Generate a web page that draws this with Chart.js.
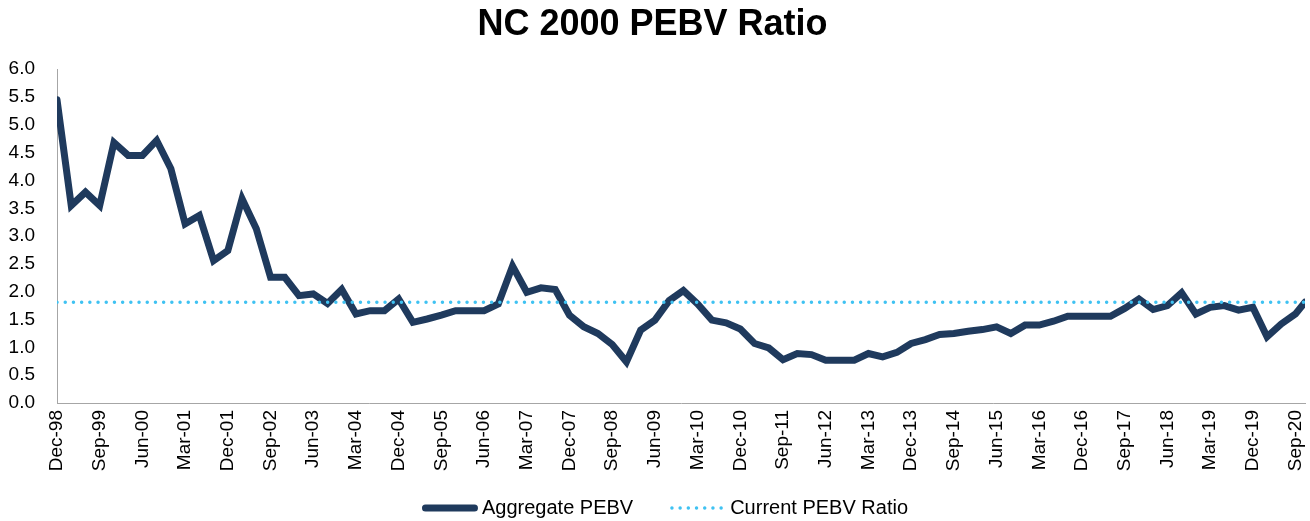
<!DOCTYPE html>
<html>
<head>
<meta charset="utf-8">
<title>NC 2000 PEBV Ratio</title>
<script src="https://cdn.jsdelivr.net/npm/chart.js@4.4.0/dist/chart.umd.min.js"></script>
<style>
  html, body { margin: 0; padding: 0; background: #fff; }
  #wrap { width: 1310px; height: 521px; }
</style>
</head>
<body>
<div id="wrap"><canvas id="pebv-chart" width="1310" height="521"></canvas></div>
<script>
// --- DATA: quarter ends, plus the latest reading at the end ---
const dates = [
  'Dec-98',
  'Mar-99', 'Jun-99', 'Sep-99', 'Dec-99',
  'Mar-00', 'Jun-00', 'Sep-00', 'Dec-00',
  'Mar-01', 'Jun-01', 'Sep-01', 'Dec-01',
  'Mar-02', 'Jun-02', 'Sep-02', 'Dec-02',
  'Mar-03', 'Jun-03', 'Sep-03', 'Dec-03',
  'Mar-04', 'Jun-04', 'Sep-04', 'Dec-04',
  'Mar-05', 'Jun-05', 'Sep-05', 'Dec-05',
  'Mar-06', 'Jun-06', 'Sep-06', 'Dec-06',
  'Mar-07', 'Jun-07', 'Sep-07', 'Dec-07',
  'Mar-08', 'Jun-08', 'Sep-08', 'Dec-08',
  'Mar-09', 'Jun-09', 'Sep-09', 'Dec-09',
  'Mar-10', 'Jun-10', 'Sep-10', 'Dec-10',
  'Mar-11', 'Jun-11', 'Sep-11', 'Dec-11',
  'Mar-12', 'Jun-12', 'Sep-12', 'Dec-12',
  'Mar-13', 'Jun-13', 'Sep-13', 'Dec-13',
  'Mar-14', 'Jun-14', 'Sep-14', 'Dec-14',
  'Mar-15', 'Jun-15', 'Sep-15', 'Dec-15',
  'Mar-16', 'Jun-16', 'Sep-16', 'Dec-16',
  'Mar-17', 'Jun-17', 'Sep-17', 'Dec-17',
  'Mar-18', 'Jun-18', 'Sep-18', 'Dec-18',
  'Mar-19', 'Jun-19', 'Sep-19', 'Dec-19',
  'Mar-20', 'Jun-20', 'Sep-20',
  'Nov-20'
];

const aggregatePEBV = [
  5.45,
  3.55, 3.79, 3.55, 4.68,
  4.45, 4.45, 4.72, 4.21,
  3.22, 3.37, 2.56, 2.74,
  3.67, 3.13, 2.26, 2.26,
  1.93, 1.96, 1.79, 2.04,
  1.60, 1.66, 1.66, 1.87,
  1.45, 1.51, 1.58, 1.66,
  1.66, 1.66, 1.78, 2.46,
  1.99, 2.07, 2.04, 1.58,
  1.37, 1.25, 1.05, 0.74,
  1.31, 1.49, 1.84, 2.02,
  1.78, 1.49, 1.44, 1.33,
  1.07, 0.99, 0.78, 0.89,
  0.87, 0.77, 0.77, 0.77,
  0.89, 0.83, 0.91, 1.07,
  1.14, 1.23, 1.25, 1.29,
  1.32, 1.37, 1.25, 1.40,
  1.40, 1.47, 1.56, 1.56,
  1.56, 1.56, 1.70, 1.87,
  1.68, 1.75, 1.98, 1.60,
  1.72, 1.75, 1.67, 1.72,
  1.19, 1.42, 1.60,
  1.81
];

const currentPEBV = 1.81;

// x tick labels, every third quarter
const xTickLabels = [
  'Dec-98', 'Sep-99', 'Jun-00', 'Mar-01', 'Dec-01', 'Sep-02', 'Jun-03', 'Mar-04',
  'Dec-04', 'Sep-05', 'Jun-06', 'Mar-07', 'Dec-07', 'Sep-08', 'Jun-09', 'Mar-10',
  'Dec-10', 'Sep-11', 'Jun-12', 'Mar-13', 'Dec-13', 'Sep-14', 'Jun-15', 'Mar-16',
  'Dec-16', 'Sep-17', 'Jun-18', 'Mar-19', 'Dec-19', 'Sep-20'
];

const FONT = '"Liberation Sans", Arial, Helvetica, sans-serif';
const NAVY = '#1f3a5d';
const SKY = '#3fc2f2';
const AXIS_GREY = '#a6a6a6';
const MONTHS = ['Jan', 'Feb', 'Mar', 'Apr', 'May', 'Jun', 'Jul', 'Aug', 'Sep', 'Oct', 'Nov', 'Dec'];

// 'Mon-YY' -> months after Dec-98 (date axis, like the Excel source)
function monthIndex(label) {
    const [mon, yy] = label.split('-');
    const year = +yy < 50 ? 2000 + +yy : 1900 + +yy;
    return (year - 1998) * 12 + MONTHS.indexOf(mon) - 11;
}

const xFirst = monthIndex(dates[0]);
const xLast = monthIndex(dates[dates.length - 1]);
const tickLookup = new Map(xTickLabels.map(l => [monthIndex(l), l]));

// legend drawn under the x labels, line samples like the Excel original
const bottomLegend = {
    id: 'bottomLegend',
    afterDraw(chart) {
        const ctx = chart.ctx;
        const items = chart.data.datasets;
        const sample = 56, gapText = 4, gapItem = 37;
        const y = 508;

        ctx.save();
        ctx.font = '20px ' + FONT;
        ctx.textBaseline = 'middle';
        ctx.textAlign = 'left';

        const widths = items.map(d => ctx.measureText(d.label).width);
        const total = widths.reduce((s, w) => s + sample + gapText + w, 0) + gapItem * (items.length - 1);
        let x = chart.width / 2 + 10 - total / 2;

        items.forEach((d, i) => {
            ctx.beginPath();
            ctx.lineWidth = d.borderWidth;
            ctx.strokeStyle = d.borderColor;
            ctx.lineCap = d.borderCapStyle || 'butt';
            ctx.setLineDash(d.borderDash || []);
            ctx.moveTo(x + d.borderWidth / 2, y);
            ctx.lineTo(x + sample - d.borderWidth / 2, y);
            ctx.stroke();
            ctx.setLineDash([]);

            x += sample + gapText;
            ctx.fillStyle = '#000';
            ctx.fillText(d.label, x, y);
            x += widths[i] + gapItem;
        });
        ctx.restore();
    }
};

const ctx = document.getElementById('pebv-chart').getContext('2d');

new Chart(ctx, {
    type: 'line',
    data: {
        datasets: [
            {
                label: 'Aggregate PEBV',
                data: aggregatePEBV.map((v, i) => ({ x: monthIndex(dates[i]), y: v })),
                borderColor: NAVY,
                borderWidth: 7,
                borderCapStyle: 'round',
                borderJoinStyle: 'miter',
                pointRadius: 0,
                tension: 0,
                fill: false,
                order: 1
            },
            {
                label: 'Current PEBV Ratio',
                data: [{ x: xFirst, y: currentPEBV }, { x: xLast, y: currentPEBV }],
                borderColor: SKY,
                borderWidth: 3.4,
                borderDash: [0.1, 8.1],
                borderCapStyle: 'round',
                pointRadius: 0,
                fill: false,
                order: 0
            }
        ]
    },
    options: {
        responsive: false,
        animation: false,
        devicePixelRatio: 1,
        layout: { padding: { left: 0, right: 5, top: 0, bottom: 48 } },
        plugins: {
            legend: { display: false },
            tooltip: { enabled: false },
            title: {
                display: true,
                text: 'NC 2000 PEBV Ratio',
                color: '#000',
                font: { family: FONT, size: 36, weight: 'bold', lineHeight: 1.2 },
                padding: { top: 3, bottom: 23 }
            }
        },
        scales: {
            x: {
                type: 'linear',
                min: xFirst,
                max: xLast,
                grid: { display: false, drawTicks: false },
                border: { display: true, color: AXIS_GREY, width: 1 },
                afterBuildTicks: (scale) => {
                    scale.ticks = xTickLabels.map(l => ({ value: monthIndex(l) }));
                },
                ticks: {
                    autoSkip: false,
                    minRotation: 90,
                    maxRotation: 90,
                    padding: 7,
                    color: '#000',
                    font: { family: FONT, size: 19 },
                    callback: (v) => tickLookup.get(v) || ''
                },
                afterFit: (scale) => {
                    scale.height = 70;
                    scale.paddingLeft = 0;
                    scale.paddingRight = 0;
                }
            },
            y: {
                min: 0,
                max: 6,
                grid: { display: false, drawTicks: false },
                border: { display: true, color: AXIS_GREY, width: 1 },
                ticks: {
                    stepSize: 0.5,
                    padding: 22,
                    color: '#000',
                    font: { family: FONT, size: 19 },
                    callback: (v) => v.toFixed(1)
                },
                afterFit: (scale) => { scale.width = 57; }
            }
        }
    },
    plugins: [bottomLegend]
});
</script>
</body>
</html>
